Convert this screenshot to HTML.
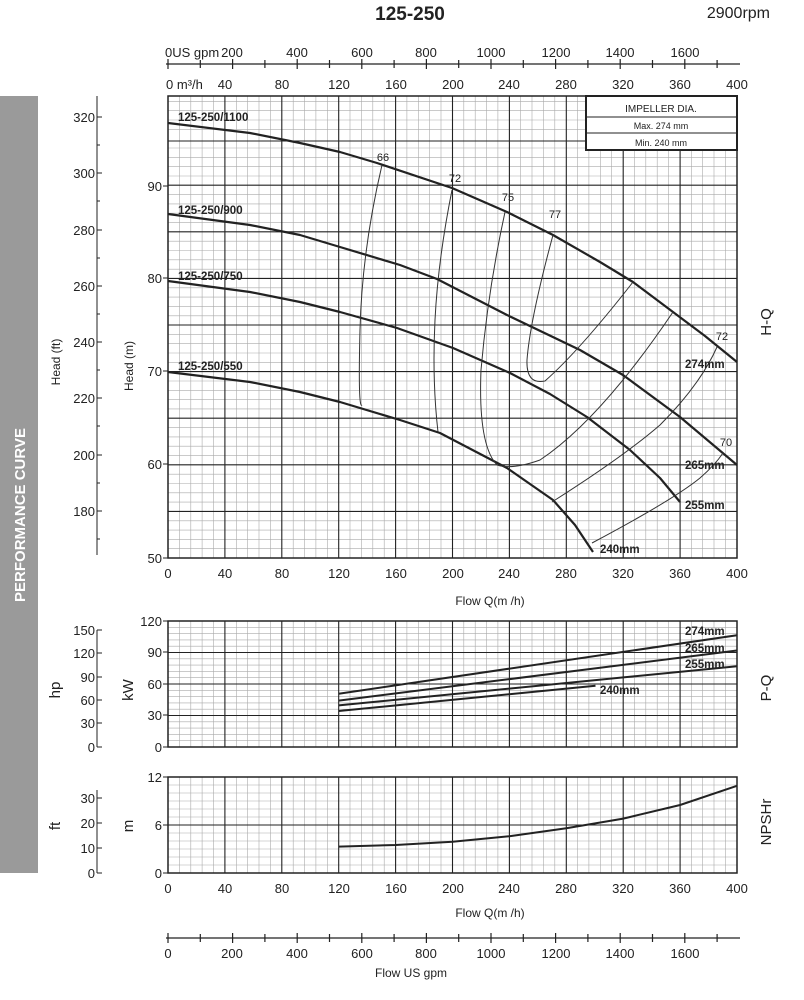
<!DOCTYPE html>
<html><head><meta charset="utf-8"><style>
html,body{margin:0;padding:0;background:#fff}
svg{display:block}
text{font-family:"Liberation Sans",sans-serif;fill:#222}
</style></head><body>
<svg width="804" height="1000" viewBox="0 0 804 1000" xmlns="http://www.w3.org/2000/svg">
<text x="410" y="20" font-size="19" font-weight="bold" text-anchor="middle">125-250</text>
<text x="770" y="18" font-size="16" text-anchor="end">2900rpm</text>
<rect x="0" y="96" width="38" height="777" fill="#9a9a9a"/>
<text transform="translate(25,515) rotate(-90)" font-size="15" font-weight="bold" fill="#fff" style="fill:#fff" text-anchor="middle">PERFORMANCE CURVE</text>
<g id="grid" stroke-width="0.6" stroke="#999">
<script>/* no scripting needed */</script>
</g>
<!-- minor grids -->
<g stroke="#aaa" stroke-width="0.6">
<path d="M179.4 96V558M190.8 96V558M202.1 96V558M213.5 96V558M236.3 96V558M247.7 96V558M259 96V558M270.4 96V558M293.2 96V558M304.5 96V558M315.9 96V558M327.3 96V558M350 96V558M361.4 96V558M372.8 96V558M384.2 96V558M406.9 96V558M418.3 96V558M429.7 96V558M441 96V558M463.8 96V558M475.2 96V558M486.5 96V558M497.9 96V558M520.7 96V558M532 96V558M543.4 96V558M554.8 96V558M577.5 96V558M588.9 96V558M600.3 96V558M611.7 96V558M634.4 96V558M645.8 96V558M657.2 96V558M668.5 96V558M691.3 96V558M702.7 96V558M714 96V558M725.4 96V558"/>
<path d="M168 548.7H737M168 539.4H737M168 530.1H737M168 520.8H737M168 502.1H737M168 492.8H737M168 483.5H737M168 474.2H737M168 455.6H737M168 446.2H737M168 436.9H737M168 427.6H737M168 408.9H737M168 399.6H737M168 390.3H737M168 381H737M168 362.4H737M168 353H737M168 343.7H737M168 334.4H737M168 315.8H737M168 306.4H737M168 297.1H737M168 287.8H737M168 269.2H737M168 259.8H737M168 250.5H737M168 241.2H737M168 222.6H737M168 213.2H737M168 203.9H737M168 194.6H737M168 176H737M168 166.6H737M168 157.3H737M168 148H737M168 129.3H737M168 120H737M168 110.7H737M168 101.4H737"/>
<path d="M179.4 621V747M190.8 621V747M202.1 621V747M213.5 621V747M236.3 621V747M247.7 621V747M259 621V747M270.4 621V747M293.2 621V747M304.5 621V747M315.9 621V747M327.3 621V747M350 621V747M361.4 621V747M372.8 621V747M384.2 621V747M406.9 621V747M418.3 621V747M429.7 621V747M441 621V747M463.8 621V747M475.2 621V747M486.5 621V747M497.9 621V747M520.7 621V747M532 621V747M543.4 621V747M554.8 621V747M577.5 621V747M588.9 621V747M600.3 621V747M611.7 621V747M634.4 621V747M645.8 621V747M657.2 621V747M668.5 621V747M691.3 621V747M702.7 621V747M714 621V747M725.4 621V747"/>
<path d="M168 627.3H737M168 633.6H737M168 639.9H737M168 646.2H737M168 658.8H737M168 665.1H737M168 671.4H737M168 677.7H737M168 690.3H737M168 696.6H737M168 702.9H737M168 709.2H737M168 721.8H737M168 728.1H737M168 734.4H737M168 740.7H737"/>
<path d="M179.4 777V873M190.8 777V873M202.1 777V873M213.5 777V873M236.3 777V873M247.7 777V873M259 777V873M270.4 777V873M293.2 777V873M304.5 777V873M315.9 777V873M327.3 777V873M350 777V873M361.4 777V873M372.8 777V873M384.2 777V873M406.9 777V873M418.3 777V873M429.7 777V873M441 777V873M463.8 777V873M475.2 777V873M486.5 777V873M497.9 777V873M520.7 777V873M532 777V873M543.4 777V873M554.8 777V873M577.5 777V873M588.9 777V873M600.3 777V873M611.7 777V873M634.4 777V873M645.8 777V873M657.2 777V873M668.5 777V873M691.3 777V873M702.7 777V873M714 777V873M725.4 777V873"/>
<path d="M168 785H737M168 793H737M168 801H737M168 809H737M168 817H737M168 833H737M168 841H737M168 849H737M168 857H737M168 865H737"/>
</g>
<!-- major grids -->
<g stroke="#222" stroke-width="1.1" fill="none">
<path d="M224.9 96V558M281.8 96V558M338.7 96V558M395.6 96V558M452.5 96V558M509.4 96V558M566.3 96V558M623.2 96V558M680.1 96V558"/>
<path d="M168 511.4H737M168 464.8H737M168 418.2H737M168 371.6H737M168 325H737M168 278.4H737M168 231.8H737M168 185.2H737M168 141H737"/>
<path d="M224.9 621V747M281.8 621V747M338.7 621V747M395.6 621V747M452.5 621V747M509.4 621V747M566.3 621V747M623.2 621V747M680.1 621V747M168 652.5H737M168 684H737M168 715.5H737"/>
<path d="M224.9 777V873M281.8 777V873M338.7 777V873M395.6 777V873M452.5 777V873M509.4 777V873M566.3 777V873M623.2 777V873M680.1 777V873M168 825H737"/>
<rect x="168" y="96" width="569" height="462" stroke-width="1.5"/>
<rect x="168" y="621" width="569" height="126" stroke-width="1.5"/>
<rect x="168" y="777" width="569" height="96" stroke-width="1.5"/>
</g>
<!-- impeller box -->
<rect x="586" y="96" width="151" height="54" fill="#fff" stroke="#222" stroke-width="2"/>
<path d="M586 117H737M586 133H737" stroke="#222" stroke-width="1"/>
<text x="661" y="112" font-size="10" text-anchor="middle">IMPELLER DIA.</text>
<text x="661" y="129" font-size="9" text-anchor="middle">Max.  274  mm</text>
<text x="661" y="146" font-size="9" text-anchor="middle">Min.   240  mm</text>
<!-- H-Q curves -->
<g fill="none" stroke="#222" stroke-width="2.2" stroke-linejoin="round">
<polyline points="168,123 250,133 300,143 340,152 377,163 452,188 507,212 553,235 600,262 633,282 673,312 705,336 737,362"/>
<polyline points="168,214 250,225 300,235 340,247 400,265 437,279 507,315 580,350 623,375 680,417 737,465"/>
<polyline points="168,281 250,292 300,302 340,312 397,328 453,348 510,373 550,394 587,417 630,450 660,478 680,502"/>
<polyline points="168,372 250,382 300,392 340,402 400,420 440,433 507,468 553,500 575,525 593,552"/>
</g>
<!-- efficiency curves -->
<g fill="none" stroke="#333" stroke-width="1">
<path d="M382,165 Q362,250 360,330 T362,405"/>
<path d="M452,190 Q438,260 435,320 T438,432"/>
<path d="M505,212 Q488,290 481,370 Q478,445 497,465 Q512,470 540,460 Q600,420 673,312"/>
<path d="M553,235 Q530,320 527,360 Q526,385 545,381 Q580,350 633,282"/>
<path d="M552,502 Q623,457 660,425 Q700,385 717,347"/>
<path d="M592,543 Q673,500 700,478 Q715,465 723,453"/>
</g>
<g font-size="11">
<text x="383" y="161" text-anchor="middle">66</text>
<text x="455" y="182" text-anchor="middle">72</text>
<text x="508" y="201" text-anchor="middle">75</text>
<text x="555" y="218" text-anchor="middle">77</text>
<text x="722" y="340" text-anchor="middle">72</text>
<text x="726" y="446" text-anchor="middle">70</text>
</g>
<g font-size="11.5" font-weight="bold">
<text x="178" y="121">125-250/1100</text>
<text x="178" y="214">125-250/900</text>
<text x="178" y="280">125-250/750</text>
<text x="178" y="370">125-250/550</text>
<text x="685" y="368">274mm</text>
<text x="685" y="469">265mm</text>
<text x="685" y="509">255mm</text>
<text x="600" y="553">240mm</text>
<text x="685" y="635">274mm</text>
<text x="685" y="652">265mm</text>
<text x="685" y="668">255mm</text>
<text x="600" y="694">240mm</text>
</g>
<!-- Power -->
<g fill="none" stroke="#222" stroke-width="2">
<line x1="338.7" y1="693.7" x2="737" y2="635.2"/>
<line x1="338.7" y1="700.6" x2="737" y2="650.5"/>
<line x1="338.7" y1="705.4" x2="737" y2="666.2"/>
<line x1="338.7" y1="711" x2="595.5" y2="685.8"/>
<polyline points="338.7,846.6 395.6,845 452.5,841.8 509.4,836.2 566.3,828.2 623.2,818.6 680.1,805 737,785.8"/>
</g>
<!-- Left axes -->
<g stroke="#222" stroke-width="1" fill="none">
<path d="M97 96V555M97 630V747M97 790V873"/>
<path d="M97 117h5M97 173h5M97 230h5M97 286h5M97 342h5M97 398h5M97 455h5M97 511h5M97 145h3M97 201h3M97 258h3M97 314h3M97 370h3M97 426h3M97 483h3M97 539h3"/>
<path d="M97 630h5M97 653h5M97 677h5M97 700h5M97 723h5M97 747h5M97 798h5M97 823h5M97 848h5M97 873h5"/>
<path d="M163 186h5M163 278h5M163 371h5M163 464h5M163 558h5M163 621h5M163 652h5M163 684h5M163 715h5M163 747h5M163 777h5M163 825h5M163 873h5"/>
</g>
<g font-size="13" text-anchor="end">
<text x="95" y="122">320</text><text x="95" y="178">300</text><text x="95" y="235">280</text><text x="95" y="291">260</text><text x="95" y="347">240</text><text x="95" y="403">220</text><text x="95" y="460">200</text><text x="95" y="516">180</text>
<text x="95" y="635">150</text><text x="95" y="658">120</text><text x="95" y="682">90</text><text x="95" y="705">60</text><text x="95" y="728">30</text><text x="95" y="752">0</text>
<text x="95" y="803">30</text><text x="95" y="828">20</text><text x="95" y="853">10</text><text x="95" y="878">0</text>
<text x="162" y="191">90</text><text x="162" y="283">80</text><text x="162" y="376">70</text><text x="162" y="469">60</text><text x="162" y="563">50</text>
<text x="162" y="626">120</text><text x="162" y="657">90</text><text x="162" y="689">60</text><text x="162" y="720">30</text><text x="162" y="752">0</text>
<text x="162" y="782">12</text><text x="162" y="830">6</text><text x="162" y="878">0</text>
</g>
<g font-size="12" text-anchor="middle">
<text transform="translate(60,362) rotate(-90)">Head (ft)</text>
<text transform="translate(133,366) rotate(-90)">Head (m)</text>
<text transform="translate(60,690) rotate(-90)" font-size="15">hp</text>
<text transform="translate(133,690) rotate(-90)" font-size="15">kW</text>
<text transform="translate(60,826) rotate(-90)" font-size="15">ft</text>
<text transform="translate(133,826) rotate(-90)" font-size="15">m</text>
<text transform="translate(771,322) rotate(-90)" font-size="15">H-Q</text>
<text transform="translate(771,688) rotate(-90)" font-size="15">P-Q</text>
<text transform="translate(771,822) rotate(-90)" font-size="15">NPSHr</text>
</g>
<!-- m3/h labels -->
<g font-size="13" text-anchor="middle">
<text x="168" y="578">0</text><text x="225" y="578">40</text><text x="282" y="578">80</text><text x="339" y="578">120</text><text x="396" y="578">160</text><text x="453" y="578">200</text><text x="509" y="578">240</text><text x="566" y="578">280</text><text x="623" y="578">320</text><text x="680" y="578">360</text><text x="737" y="578">400</text>
<text x="168" y="893">0</text><text x="225" y="893">40</text><text x="282" y="893">80</text><text x="339" y="893">120</text><text x="396" y="893">160</text><text x="453" y="893">200</text><text x="509" y="893">240</text><text x="566" y="893">280</text><text x="623" y="893">320</text><text x="680" y="893">360</text><text x="737" y="893">400</text>
<text x="225" y="89">40</text><text x="282" y="89">80</text><text x="339" y="89">120</text><text x="396" y="89">160</text><text x="453" y="89">200</text><text x="509" y="89">240</text><text x="566" y="89">280</text><text x="623" y="89">320</text><text x="680" y="89">360</text><text x="737" y="89">400</text>
<text x="232" y="57">200</text><text x="297" y="57">400</text><text x="362" y="57">600</text><text x="426" y="57">800</text><text x="491" y="57">1000</text><text x="556" y="57">1200</text><text x="620" y="57">1400</text><text x="685" y="57">1600</text>
<text x="168" y="958">0</text><text x="232" y="958">200</text><text x="297" y="958">400</text><text x="362" y="958">600</text><text x="426" y="958">800</text><text x="491" y="958">1000</text><text x="556" y="958">1200</text><text x="620" y="958">1400</text><text x="685" y="958">1600</text>
<text x="490" y="605" font-size="12">Flow  Q(m /h)</text>
<text x="490" y="917" font-size="12">Flow  Q(m /h)</text>
<text x="411" y="977" font-size="12">Flow   US gpm</text>
</g>
<text x="166" y="89" font-size="13">0  m³/h</text>
<text x="165" y="57" font-size="13">0US gpm</text>
<!-- gpm axes -->
<g stroke="#222" stroke-width="1.2" fill="none">
<path d="M166 64H740M166 938H740"/>
<path d="M168 59v10M200.3 60v8M232.6 59v10M264.9 60v8M297.2 59v10M329.5 60v8M361.8 59v10M394.1 60v8M426.4 59v10M458.7 60v8M491 59v10M523.3 60v8M555.6 59v10M587.9 60v8M620.2 59v10M652.5 60v8M684.8 59v10M717.1 60v8"/>
<path d="M168 933v10M200.3 934v8M232.6 933v10M264.9 934v8M297.2 933v10M329.5 934v8M361.8 933v10M394.1 934v8M426.4 933v10M458.7 934v8M491 933v10M523.3 934v8M555.6 933v10M587.9 934v8M620.2 933v10M652.5 934v8M684.8 933v10M717.1 934v8"/>
</g>
</svg>
</body></html>
